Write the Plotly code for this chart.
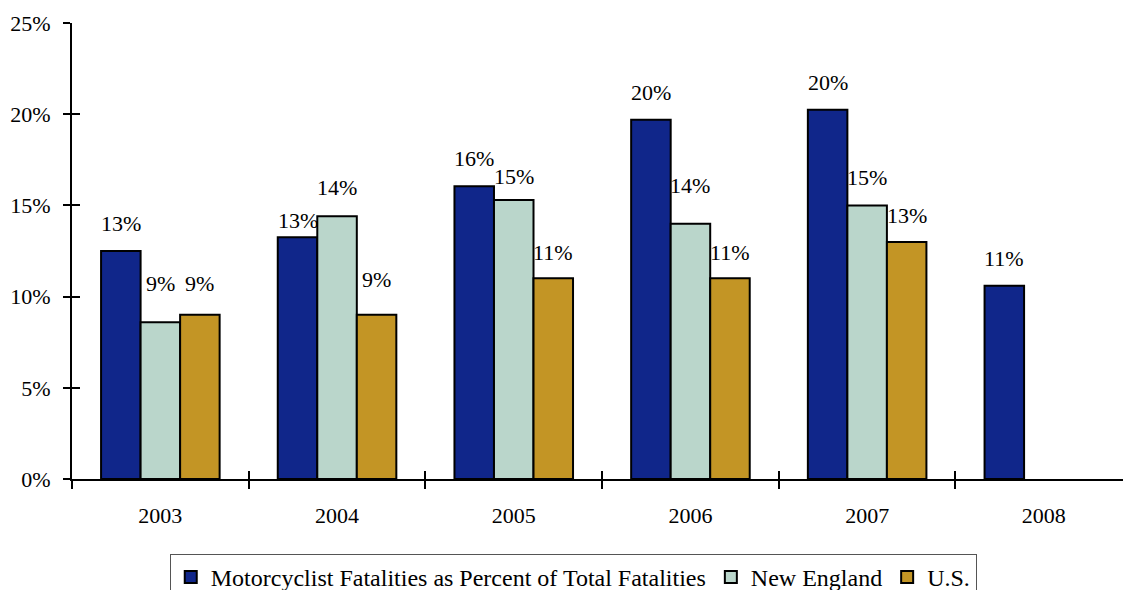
import plotly.graph_objects as go

years = ["2003", "2004", "2005", "2006", "2007", "2008"]
series_names = ["Motorcyclist Fatalities as Percent of Total Fatalities", "New England", "U.S."]
moto_pct = [12.5, 13.25, 16.05, 19.7, 20.25, 10.6]
new_england_pct = [8.6, 14.4, 15.3, 14.0, 15.0, None]
us_pct = [9.0, 9.0, 11.0, 11.0, 13.0, None]
moto_labels = ["13%", "13%", "16%", "20%", "20%", "11%"]
new_england_labels = ["9%", "14%", "15%", "14%", "15%", ""]
us_labels = ["9%", "9%", "11%", "11%", "13%", ""]
y_ticks = [0, 5, 10, 15, 20, 25]

colors = ["#10268a", "#bad6cb", "#c39525"]
FONT = "Liberation Serif"

# label lift above bar top (px), per series/point
label_lift = [
    [28, 17, 28, 27, 27, 27],
    [39, 29, 23, 38, 28, 27],
    [31, 35, 26, 26, 26, 27],
]

values = [moto_pct, new_england_pct, us_pct]
labels = [moto_labels, new_england_labels, us_labels]

fig = go.Figure()
for name, vals, col in zip(series_names, values, colors):
    fig.add_trace(go.Bar(
        x=years, y=vals, name=name,
        marker=dict(color=col, line=dict(color="black", width=2)),
    ))

# empty helper traces so the overlay tick axes get drawn
fig.add_trace(go.Scatter(x=[], y=[], xaxis="x2", yaxis="y", showlegend=False, hoverinfo="skip"))
fig.add_trace(go.Scatter(x=[], y=[], xaxis="x", yaxis="y2", showlegend=False, hoverinfo="skip"))

W, H = 1123, 590
ml, mr, mt, mb = 72, 0, 23, 111
x_end = 5.448
bargap = 0.329

annotations = []
for si, (vals, labs) in enumerate(zip(values, labels)):
    for i, (v, t) in enumerate(zip(vals, labs)):
        if v is None or not t:
            continue
        annotations.append(dict(
            x=i + (si - 1) * (1 - bargap) / 3, y=v, xref="x2", yref="y", text=t,
            showarrow=False, yshift=label_lift[si][i],
            yanchor="middle", xanchor="center",
            font=dict(family=FONT, size=22, color="black"),
        ))

fig.update_layout(
    template="none",
    width=W, height=H,
    margin=dict(l=ml, r=mr, t=mt, b=mb, pad=0, autoexpand=False),
    paper_bgcolor="white", plot_bgcolor="white",
    barmode="group", bargap=bargap, bargroupgap=0,
    font=dict(family=FONT, size=22, color="black"),
    showlegend=True,
    legend=dict(
        orientation="h", x=0.093, xanchor="left", y=-0.164, yanchor="top",
        bordercolor="#555555", borderwidth=1, bgcolor="white",
        font=dict(family=FONT, size=24, color="black"),
        itemwidth=30, tracegroupgap=0,
    ),
    annotations=annotations,
    xaxis=dict(
        type="category", range=[-0.5, x_end], tickson="boundaries",
        ticks="outside", ticklen=8, tickwidth=2, tickcolor="black",
        showline=True, linecolor="black", linewidth=2, showgrid=False,
        zeroline=False, automargin=False,
        tickfont=dict(family=FONT, size=22, color="black"),
        ticklabelstandoff=16,
    ),
    xaxis2=dict(
        type="linear", overlaying="x", anchor="y", side="bottom", range=[-0.5, x_end],
        tickmode="array", tickvals=[0.5, 1.5, 2.5, 3.5, 4.5],
        ticks="inside", ticklen=8, tickwidth=2, tickcolor="black",
        showticklabels=False, showline=False, showgrid=False, zeroline=False,
        automargin=False,
    ),
    yaxis=dict(
        range=[0, 25], tickmode="array", tickvals=y_ticks,
        ticktext=[f"{v}%" for v in y_ticks],
        ticks="outside", ticklen=7, tickwidth=2, tickcolor="black",
        showline=True, linecolor="black", linewidth=2, showgrid=False,
        zeroline=False, automargin=False,
        tickfont=dict(family=FONT, size=22, color="black"),
        ticklabelstandoff=8,
    ),
    yaxis2=dict(
        overlaying="y", anchor="x", side="left", range=[0, 25],
        tickmode="array", tickvals=y_ticks,
        ticks="inside", ticklen=8, tickwidth=2, tickcolor="black",
        showticklabels=False, showline=False, showgrid=False, zeroline=False,
        automargin=False,
    ),
)

fig.write_html(
    "out.html",
    config={"displayModeBar": False},
    post_script="document.body.style.margin='0';document.body.style.overflow='hidden';",
)
